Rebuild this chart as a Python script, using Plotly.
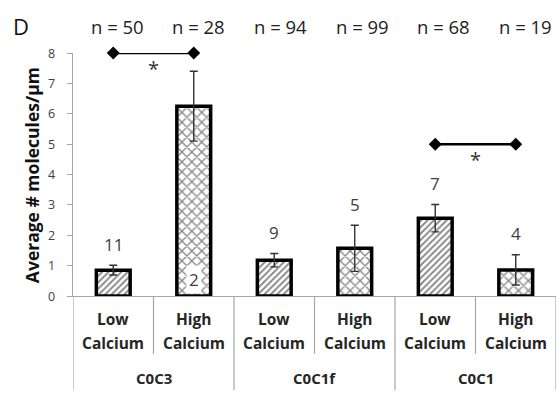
import plotly.graph_objects as go

# ---- data ----
groups = ["C0C3", "C0C1f", "C0C1"]
conditions = [("Low", "Calcium"), ("High", "Calcium")]
means = [0.85, 6.25, 1.18, 1.57, 2.56, 0.86]
errors = [0.16, 1.15, 0.22, 0.76, 0.45, 0.50]
bar_labels = ["11", "2", "9", "5", "7", "4"]
n_labels = ["n = 50", "n = 28", "n = 94", "n = 99", "n = 68", "n = 19"]
sig_pairs = [(0, 1, 8.0), (4, 5, 5.0)]
y_ticks = [0, 1, 2, 3, 4, 5, 6, 7, 8]

FONT = "Open Sans"
# plot area spans page x 73..556, y 52.7..296
PW, PH = 483, 243.3
x = list(range(len(means)))
patterns = ["/" if i % 2 == 0 else "x" for i in x]


def px_x(p):  # page pixel -> paper x
    return (p - 73) / PW


def px_y(p):  # page pixel -> paper y
    return (296 - p) / PH


fig = go.Figure()
fig.add_trace(go.Bar(
    x=x, y=means, width=0.42,
    marker=dict(color="white",
                line=dict(color="black", width=3.5),
                pattern=dict(shape=patterns, fgcolor="#111111", bgcolor="white",
                             size=[4.5 if p == "/" else 7 for p in patterns],
                             solidity=[0.42 if p == "/" else 0.35 for p in patterns])),
    error_y=dict(type="data", array=errors, visible=True, color="#333333",
                 thickness=1.4, width=4),
    showlegend=False,
))

# significance brackets
for a, b, yv in sig_pairs:
    fig.add_trace(go.Scatter(
        x=[a, b], y=[yv, yv], mode="lines+markers",
        line=dict(color="black", width=2.5),
        marker=dict(symbol="diamond", size=10, color="black"),
        cliponaxis=False, showlegend=False, hoverinfo="skip"))
    fig.add_annotation(x=(a + b) / 2, y=yv, text="*", showarrow=False,
                       xanchor="center", yanchor="middle",
                       yshift=-15, font=dict(family=FONT, size=20, color="#333333"))

# value labels
for i, (m, e, t) in enumerate(zip(means, errors, bar_labels)):
    if i == 1:
        fig.add_annotation(x=i, y=0, text=t, showarrow=False, yshift=17,
                           xanchor="center", yanchor="middle",
                           bgcolor="white", borderpad=2,
                           font=dict(family=FONT, size=17, color="#404040"))
    else:
        fig.add_annotation(x=i, y=m + e, text=t, showarrow=False, yshift=21,
                           xanchor="center", yanchor="middle",
                           font=dict(family=FONT, size=17, color="#404040"))

# y tick labels (placed further from the axis than plotly's default)
for v in y_ticks:
    fig.add_annotation(x=px_x(57), y=v, xref="paper", yref="y", text=str(v),
                       showarrow=False, xanchor="right", yanchor="middle",
                       font=dict(family=FONT, size=12.5, color="#404040"))

# n labels
for i, t in enumerate(n_labels):
    fig.add_annotation(x=i, y=px_y(26), yref="paper", text=t, showarrow=False,
                       xanchor="center", yanchor="middle",
                       xshift=4 + 1.1 * i,
                       font=dict(family=FONT, size=18.5, color="#222222"))

# category labels
for i in x:
    top, bottom = conditions[i % 2]
    for txt, py in ((top, 319), (bottom, 343)):
        fig.add_annotation(x=i, y=px_y(py), yref="paper", text="<b>" + txt + "</b>",
                           showarrow=False, xanchor="center", yanchor="middle",
                           font=dict(family=FONT, size=15.5, color="#262626"))
for g, name in enumerate(groups):
    fig.add_annotation(x=2 * g + 0.5, y=px_y(378), yref="paper", text="<b>" + name + "</b>",
                       showarrow=False, xanchor="center", yanchor="middle",
                       font=dict(family=FONT, size=15, color="#262626"))

# separators
for k in range(len(means) + 1):
    xv = k - 0.5
    low = px_y(390) if k % 2 == 0 else px_y(354)
    fig.add_shape(type="line", xref="x", yref="paper", x0=xv, x1=xv, y0=0, y1=low,
                  line=dict(color="#a6a6a6", width=1.2))

# panel letter and y title
fig.add_annotation(x=px_x(21), y=px_y(26), xref="paper", yref="paper", text="D",
                   showarrow=False, xanchor="center", yanchor="middle",
                   font=dict(family=FONT, size=22, color="#111111"))
fig.add_annotation(x=px_x(32), y=px_y(175), xref="paper", yref="paper",
                   text="<b>Average # molecules/µm</b>", textangle=-90, showarrow=False,
                   xanchor="center", yanchor="middle",
                   font=dict(family=FONT, size=17.5, color="#111111"))

fig.update_layout(
    width=557, height=399,
    margin=dict(l=73, r=1, t=52.7, b=103),
    paper_bgcolor="white", plot_bgcolor="white",
    font=dict(family=FONT),
)
fig.update_xaxes(range=[-0.5, 5.5], showticklabels=False, showgrid=False, zeroline=False,
                 showline=True, linecolor="#a6a6a6", linewidth=1.2, ticks="")
fig.update_yaxes(range=[0, 8], tickvals=y_ticks, showgrid=False, zeroline=False,
                 showline=True, linecolor="#a6a6a6", linewidth=1.2,
                 ticks="outside", ticklen=5, tickcolor="#a6a6a6",
                 showticklabels=False)

fig.write_html("out.html",
               config={"displayModeBar": False},
               post_script="document.body.style.margin='0';"
                           "document.body.style.overflow='hidden';"
                           "document.documentElement.style.overflow='hidden';")
